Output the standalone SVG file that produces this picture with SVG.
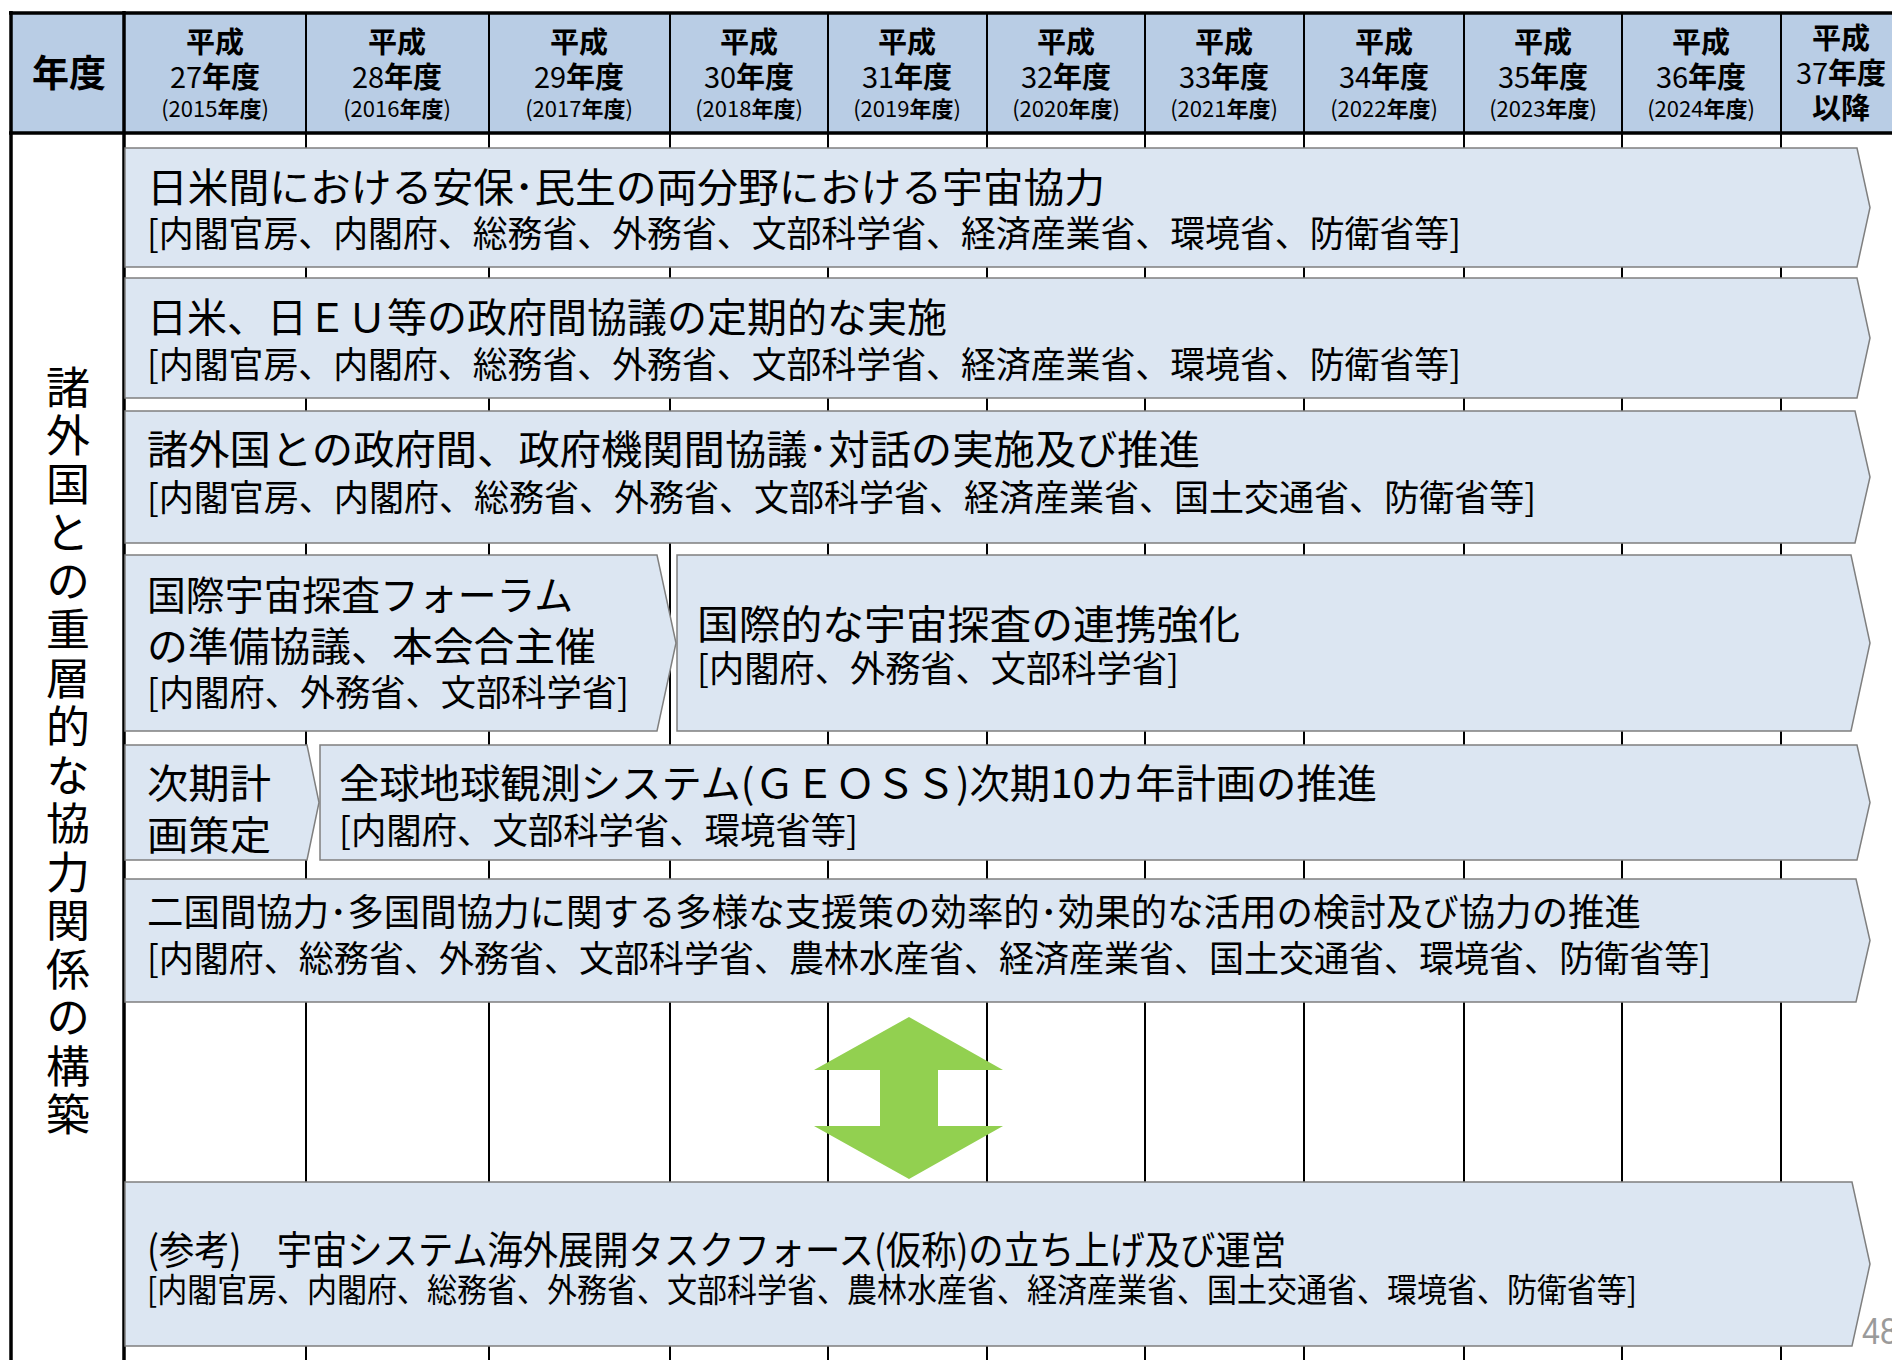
<svg xmlns="http://www.w3.org/2000/svg" width="1892" height="1360" viewBox="0 0 1892 1360">
<style>
.bg{fill:#FFFFFF}
.hdr{fill:#B9CDE5}
.line{stroke:#000;stroke-width:2;fill:none}
.thick{stroke:#000;stroke-width:3.5;fill:none}
.bar{fill:#DCE6F2;stroke:#7F7F7F;stroke-width:1.5}
.t{font-family:"Noto Sans CJK JP","Noto Sans CJK SC",sans-serif;fill:#000}
.b{font-weight:700}
.h1{font-size:29px;font-weight:700}
.n{font-weight:400}
.h2{font-size:22px}
.l1{font-size:40px}
.l2{font-size:36px}
.v{font-size:44px;writing-mode:vertical-rl;letter-spacing:4.5px}
.arrow{fill:#92D050}
</style>
<rect class="bg" x="0" y="0" width="1892" height="1360"/>

<g id="header">
  <rect class="hdr" x="11" y="13" width="1881" height="120"/>
  <text class="t b" x="69" y="87" font-size="37" text-anchor="middle">年度</text>
  <g class="t" text-anchor="middle">
    <text class="h1" x="215" y="53">平成</text><text class="h1" x="215" y="88"><tspan class="n">27</tspan>年度</text><text class="h2" x="215" y="117">(2015<tspan class="b">年度</tspan>)</text>
    <text class="h1" x="397" y="53">平成</text><text class="h1" x="397" y="88"><tspan class="n">28</tspan>年度</text><text class="h2" x="397" y="117">(2016<tspan class="b">年度</tspan>)</text>
    <text class="h1" x="579" y="53">平成</text><text class="h1" x="579" y="88"><tspan class="n">29</tspan>年度</text><text class="h2" x="579" y="117">(2017<tspan class="b">年度</tspan>)</text>
    <text class="h1" x="749" y="53">平成</text><text class="h1" x="749" y="88"><tspan class="n">30</tspan>年度</text><text class="h2" x="749" y="117">(2018<tspan class="b">年度</tspan>)</text>
    <text class="h1" x="907" y="53">平成</text><text class="h1" x="907" y="88"><tspan class="n">31</tspan>年度</text><text class="h2" x="907" y="117">(2019<tspan class="b">年度</tspan>)</text>
    <text class="h1" x="1066" y="53">平成</text><text class="h1" x="1066" y="88"><tspan class="n">32</tspan>年度</text><text class="h2" x="1066" y="117">(2020<tspan class="b">年度</tspan>)</text>
    <text class="h1" x="1224" y="53">平成</text><text class="h1" x="1224" y="88"><tspan class="n">33</tspan>年度</text><text class="h2" x="1224" y="117">(2021<tspan class="b">年度</tspan>)</text>
    <text class="h1" x="1384" y="53">平成</text><text class="h1" x="1384" y="88"><tspan class="n">34</tspan>年度</text><text class="h2" x="1384" y="117">(2022<tspan class="b">年度</tspan>)</text>
    <text class="h1" x="1543" y="53">平成</text><text class="h1" x="1543" y="88"><tspan class="n">35</tspan>年度</text><text class="h2" x="1543" y="117">(2023<tspan class="b">年度</tspan>)</text>
    <text class="h1" x="1701" y="53">平成</text><text class="h1" x="1701" y="88"><tspan class="n">36</tspan>年度</text><text class="h2" x="1701" y="117">(2024<tspan class="b">年度</tspan>)</text>
    <text class="h1" x="1841" y="49">平成</text><text class="h1" x="1841" y="84"><tspan class="n">37</tspan>年度</text><text class="h1" x="1841" y="119">以降</text>
  </g>
</g>

<g id="grid">
  <line class="thick" x1="9" y1="13" x2="1892" y2="13"/>
  <line class="thick" x1="9" y1="133" x2="1892" y2="133"/>
  <line class="thick" x1="11" y1="11" x2="11" y2="1360"/>
  <line class="thick" x1="124" y1="11" x2="124" y2="1360"/>
  <g class="line">
    <line x1="306" y1="13" x2="306" y2="1360"/>
    <line x1="489" y1="13" x2="489" y2="1360"/>
    <line x1="670" y1="13" x2="670" y2="1360"/>
    <line x1="828" y1="13" x2="828" y2="1360"/>
    <line x1="987" y1="13" x2="987" y2="1360"/>
    <line x1="1145" y1="13" x2="1145" y2="1360"/>
    <line x1="1304" y1="13" x2="1304" y2="1360"/>
    <line x1="1464" y1="13" x2="1464" y2="1360"/>
    <line x1="1622" y1="13" x2="1622" y2="1360"/>
    <line x1="1781" y1="13" x2="1781" y2="1360"/>
  </g>
</g>

<g id="label">
  <text class="t v" x="68" y="365">諸外国との重層的な協力関係の構築</text>
</g>

<g id="bar1">
  <path class="bar" d="M125,148 H1857 L1870,207.5 L1857,267 H125 Z"/>
  <text class="t l1" x="147" y="202" textLength="958" lengthAdjust="spacingAndGlyphs">日米間における安保･民生の両分野における宇宙協力</text>
  <text class="t l2" x="147" y="247" textLength="1314" lengthAdjust="spacingAndGlyphs">[内閣官房、内閣府、総務省、外務省、文部科学省、経済産業省、環境省、防衛省等]</text>
</g>

<g id="bar2">
  <path class="bar" d="M125,278 H1857 L1870,338 L1857,398 H125 Z"/>
  <text class="t l1" x="147" y="332" textLength="800" lengthAdjust="spacingAndGlyphs">日米、日ＥＵ等の政府間協議の定期的な実施</text>
  <text class="t l2" x="147" y="378" textLength="1314" lengthAdjust="spacingAndGlyphs">[内閣官房、内閣府、総務省、外務省、文部科学省、経済産業省、環境省、防衛省等]</text>
</g>

<g id="bar3">
  <path class="bar" d="M125,411 H1855 L1870,477 L1855,543 H125 Z"/>
  <text class="t l1" x="147" y="464" textLength="1053" lengthAdjust="spacingAndGlyphs">諸外国との政府間、政府機関間協議･対話の実施及び推進</text>
  <text class="t l2" x="147" y="511" textLength="1389" lengthAdjust="spacingAndGlyphs">[内閣官房、内閣府、総務省、外務省、文部科学省、経済産業省、国土交通省、防衛省等]</text>
</g>

<g id="bar4a">
  <path class="bar" d="M125,555 H657 L676,643 L657,731 H125 Z"/>
  <text class="t l1" x="147" y="610" textLength="426" lengthAdjust="spacingAndGlyphs">国際宇宙探査フォーラム</text>
  <text class="t l1" x="147" y="661" textLength="449" lengthAdjust="spacingAndGlyphs">の準備協議、本会合主催</text>
  <text class="t l2" x="147" y="706" textLength="482" lengthAdjust="spacingAndGlyphs">[内閣府、外務省、文部科学省]</text>
</g>

<g id="bar4b">
  <path class="bar" d="M677,555 H1851 L1870,643 L1851,731 H677 Z"/>
  <text class="t l1" x="697" y="639" textLength="543" lengthAdjust="spacingAndGlyphs">国際的な宇宙探査の連携強化</text>
  <text class="t l2" x="697" y="682" textLength="482" lengthAdjust="spacingAndGlyphs">[内閣府、外務省、文部科学省]</text>
</g>

<g id="bar5a">
  <path class="bar" d="M125,745 H307 L319,802.5 L307,860 H125 Z"/>
  <text class="t l1" x="147" y="798" textLength="124" lengthAdjust="spacingAndGlyphs">次期計</text>
  <text class="t l1" x="147" y="850" textLength="124" lengthAdjust="spacingAndGlyphs">画策定</text>
</g>

<g id="bar5b">
  <path class="bar" d="M320,745 H1857 L1870,802.5 L1857,860 H320 Z"/>
  <text class="t l1" x="339" y="798" textLength="1038" lengthAdjust="spacingAndGlyphs">全球地球観測システム(ＧＥＯＳＳ)次期10カ年計画の推進</text>
  <text class="t l2" x="339" y="844" textLength="519" lengthAdjust="spacingAndGlyphs">[内閣府、文部科学省、環境省等]</text>
</g>

<g id="bar6">
  <path class="bar" d="M125,879 H1856 L1870,940.5 L1856,1002 H125 Z"/>
  <text class="t" x="147" y="926" font-size="37" textLength="1494" lengthAdjust="spacingAndGlyphs">二国間協力･多国間協力に関する多様な支援策の効率的･効果的な活用の検討及び協力の推進</text>
  <text class="t" x="147" y="972" font-size="36" textLength="1564" lengthAdjust="spacingAndGlyphs">[内閣府、総務省、外務省、文部科学省、農林水産省、経済産業省、国土交通省、環境省、防衛省等]</text>
</g>

<g id="connectors">
  <polygon class="arrow" points="909,1017 1003,1070 938,1070 938,1126 1003,1126 909,1179 814,1126 880,1126 880,1070 814,1070"/>
</g>

<g id="bar7">
  <path class="bar" d="M125,1182 H1852 L1870,1264 L1852,1346 H125 Z"/>
  <text class="t" x="147" y="1264" font-size="39" textLength="1139" lengthAdjust="spacingAndGlyphs">(参考)　宇宙システム海外展開タスクフォース(仮称)の立ち上げ及び運営</text>
  <text class="t" x="147" y="1302" font-size="33" textLength="1490" lengthAdjust="spacingAndGlyphs">[内閣官房、内閣府、総務省、外務省、文部科学省、農林水産省、経済産業省、国土交通省、環境省、防衛省等]</text>
</g>

<g id="page">
  <text x="1862" y="1344" font-family="'Liberation Sans',sans-serif" font-size="36" fill="#9A9A9A" textLength="36" lengthAdjust="spacingAndGlyphs">48</text>
</g>
</svg>
